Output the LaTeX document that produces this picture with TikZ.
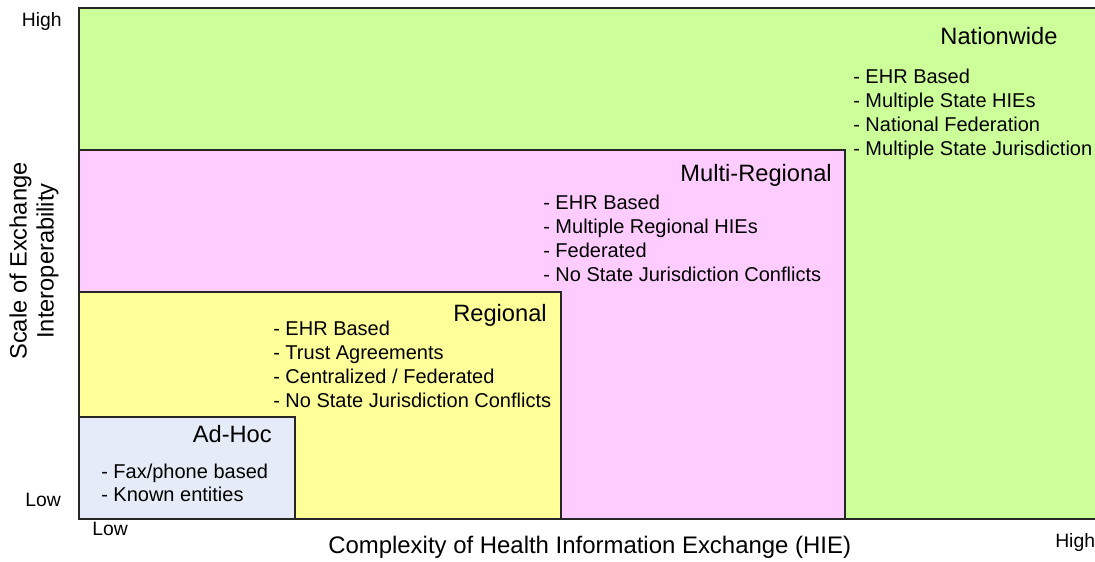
\documentclass[tikz,border=0pt]{standalone}
\usepackage{fontspec}
\setmainfont{Liberation Sans}
\definecolor{natgreen}{HTML}{CCFF99}
\definecolor{multipink}{HTML}{FFCCFF}
\definecolor{regyellow}{HTML}{FFFF99}
\definecolor{adhocblue}{HTML}{E5ECF7}
\tikzset{
  zone/.style={draw=black!85, line width=0.8pt},
  item/.style={inner sep=0pt, anchor=base west, font=\fontsize{15}{18}\selectfont},
  ztitle/.style={inner sep=0pt, anchor=base east, font=\fontsize{17.75}{21}\selectfont},
  axlbl/.style={inner sep=0pt, font=\fontsize{14.5}{17}\selectfont},
}
\begin{document}
\begin{tikzpicture}[x=0.75pt,y=-0.75pt]
\useasboundingbox (0,0) rectangle (1095,561);
% zones
\path[zone, fill=natgreen] (79,8) rectangle (1100,519);
\path[zone, fill=multipink] (79,150) rectangle (845,519);
\path[zone, fill=regyellow] (79,292) rectangle (561,519);
\path[zone, fill=adhocblue] (79,417) rectangle (295,519);
% Nationwide
\node[ztitle, anchor=base] (tnat) at (999,44) {Nationwide};
\node[item] (n1) at (853,83) {- EHR Based};
\node[item] (n2) at (853,107.3) {- Multiple State HIEs};
\node[item] (n3) at (853,131.5) {- National Federation};
\node[item] (n4) at (853,155.5) {- Multiple State Jurisdiction};
% Multi-Regional
\node[ztitle] (tmulti) at (832,181) {Multi-Regional};
\node[item] (m1) at (543,209.3) {- EHR Based};
\node[item] (m2) at (543,233.3) {- Multiple Regional HIEs};
\node[item] (m3) at (543,257.3) {- Federated};
\node[item] (m4) at (543,281.3) {- No State Jurisdiction Conflicts};
% Regional
\node[ztitle] (treg) at (547,321.7) {Regional};
\node[item] (r1) at (273,335) {- EHR Based};
\node[item] (r2) at (273,359) {- Trust Agreements};
\node[item] (r3) at (273,383) {- Centralized / Federated};
\node[item] (r4) at (273,407) {- No State Jurisdiction Conflicts};
% Ad-Hoc
\node[ztitle] (tadhoc) at (272,442.3) {Ad-Hoc};
\node[item] (a1) at (101,478.3) {- Fax/phone based};
\node[item] (a2) at (101,501.5) {- Known entities};
% axes
\node[axlbl, anchor=base east] (yhigh) at (62,26) {High};
\node[axlbl, anchor=base east] (ylow) at (61,506.7) {Low};
\node[axlbl, anchor=base west] (xlow) at (92,535) {Low};
\node[axlbl, anchor=base west] (xhigh) at (1055,547.3) {High};
\node[inner sep=0pt, anchor=base west, font=\fontsize{17.95}{21}\selectfont] (xtitle) at (328,553.3) {Complexity of Health Information Exchange (HIE)};
\node[inner sep=0pt, rotate=90, align=center, font=\fontsize{17.75}{20.25}\selectfont] (ytitle) at (34,261) {Scale of Exchange\\Interoperability};
\end{tikzpicture}
\end{document}
